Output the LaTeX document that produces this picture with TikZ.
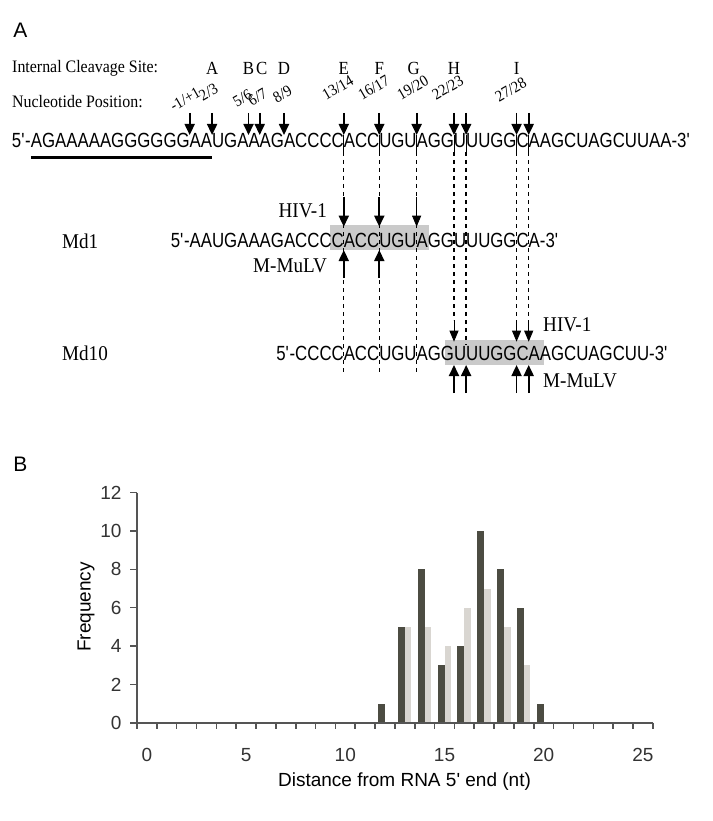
\documentclass[tikz,border=0pt]{standalone}
\usepackage{fontspec}
\setmainfont{Liberation Serif}
\setsansfont{Liberation Sans}
\newfontfamily\seqfont[FakeStretch=0.82]{Liberation Sans}
\newfontfamily\labelfont[FakeStretch=0.91]{Liberation Serif}
\usetikzlibrary{arrows.meta, positioning, calc, backgrounds}

\definecolor{bardark}{HTML}{4C4C42}
\definecolor{barlight}{HTML}{D9D6D1}
\definecolor{axisgray}{HTML}{555555}
\definecolor{boxgray}{HTML}{CACACA}

\begin{document}
\begin{tikzpicture}[
  x=1pt, y=-1pt,
  seq/.style={inner sep=0pt, outer sep=0pt, anchor=base west, font=\seqfont\fontsize{20.5}{24}\selectfont},
  seqend/.style={seq, anchor=base east},
  panel/.style={font=\sffamily\fontsize{21}{24}\selectfont},
  head/.style={anchor=west, inner sep=0pt, font=\labelfont\fontsize{17.5}{20}\selectfont},
  site/.style={inner sep=0pt, font=\labelfont\fontsize{18.5}{21}\selectfont},
  nucpos/.style={rotate=30, anchor=south west, inner sep=0pt, font=\labelfont\fontsize{16}{18}\selectfont},
  enz/.style={inner sep=0pt, font=\labelfont\fontsize{21}{24}\selectfont},
  cut/.style={-{Triangle[length=11pt, width=10pt]}, line width=1.8pt},
  thincut/.style={-{Triangle[length=11pt, width=9pt]}, line width=0.9pt},
  guide/.style={line width=1.3pt, dash pattern=on 4pt off 4pt},
  axis/.style={draw=axisgray, line width=1.6pt},
  ticklab/.style={font=\sffamily\fontsize{19}{22}\selectfont, text=black!80}
]
\useasboundingbox (0,0) rectangle (712,821);

% Panel A: headings
\node[panel] (pa) at (20.5,30) {A};
\node[head] (sitehead) at (12,68) {Internal Cleavage Site:};
\node[head] (poshead) at (12,102) {Nucleotide Position:};

% Full sequence, split at the cleavage sites
\node[seq] (p0) at (12,147.7) {5\textquotesingle-};
\node[seq] (m0) at (p0.base east) {AGAAAAAGGGGGG};
\node[seq] (m1) at (m0.base east) {AA};
\node[seq] (m2) at (m1.base east) {UGA};
\node[seq] (m3) at (m2.base east) {A};
\node[seq] (m4) at (m3.base east) {AG};
\node[seq] (m5) at (m4.base east) {A};
\node[seq] (m6) at (m5.base east) {CCCC};
\node[seq] (m7) at (m6.base east) {ACC};
\node[seq] (m8) at (m7.base east) {UGU};
\node[seq] (m9) at (m8.base east) {AGG};
\node[seq] (m10) at (m9.base east) {U};
\node[seq] (m11) at (m10.base east) {UUGG};
\node[seq] (m12) at (m11.base east) {C};
\node[seq] (m13) at (m12.base east) {AAGCUAGCUUAA-3\textquotesingle};
\foreach \i in {1,...,13} \coordinate (b\i) at (m\i.base west);

% Row levels
\coordinate (arrtop) at (0,113);
\coordinate (arrtip) at (0,135);
\coordinate (gap) at (0,152);
\coordinate (uline) at (0,158);
\coordinate (lowend) at (0,373);
\coordinate (hivtop) at (0,320);
\coordinate (mdtentop) at (0,345);

\draw[line width=3pt] (m0.base west |- uline) -- (b2 |- uline);

% Site letters
\node[site] (sA) at (b2 |- sitehead) {A};
\node[site] (sB) at (b3 |- sitehead) {B};
\node[site] (sC) at ([xshift=2pt]b4 |- sitehead) {C};
\node[site] (sD) at (b5 |- sitehead) {D};
\node[site] (sE) at (b7 |- sitehead) {E};
\node[site] (sF) at (b8 |- sitehead) {F};
\node[site] (sG) at ([xshift=-3pt]b9 |- sitehead) {G};
\node[site] (sH) at (b10 |- sitehead) {H};
\node[site] (sI) at (b12 |- sitehead) {I};

% Nucleotide positions
\node[nucpos] (n1) at (174,112) {-1/+1};
\node[nucpos] (n2) at (203,102) {2/3};
\node[nucpos] (n3) at (237,108) {5/6};
\node[nucpos] (n4) at (252,107) {6/7};
\node[nucpos] (n5) at (277,104) {8/9};
\node[nucpos] (n7) at (326,101) {13/14};
\node[nucpos] (n8) at (362,101) {16/17};
\node[nucpos] (n9) at (401,101) {19/20};
\node[nucpos] (n10) at (436,101) {22/23};
\node[nucpos] (n12) at (499,103) {27/28};

% Cleavage arrows on the full sequence
\foreach \i in {1,2,3,4,5,7,8,9,10,11,12,13}
  \draw[cut] (b\i |- arrtop) -- (b\i |- arrtip);
\foreach \i in {7,...,13}
  \draw[line width=0.6pt] (b\i |- arrtip) -- (b\i |- gap);
\foreach \i in {7,8,9}
  \draw[guide] (b\i |- gap) -- (b\i |- lowend);
\foreach \i in {10,12,13}
  \draw[guide] (b\i |- gap) -- (b\i |- hivtop);
\draw[guide] (b11 |- gap) -- (b11 |- mdtentop);

% Md1
\coordinate (rowone) at (0,247);
\node[enz, anchor=base west] (mdone) at (62,248) {Md1};
\node[seqend] (q0) at (b1 |- rowone) {5\textquotesingle-};
\node[seq] (q1) at (b1 |- rowone) {AAUGAAAGACCC};
\node[seq] (q2) at (q1.base east) {CACCUGUA};
\node[seq] (q3) at (q2.base east) {GGUUUGGCA-3\textquotesingle};
\begin{scope}[on background layer]
  \fill[boxgray] ($(q2.base west)+(-2,3)$) rectangle ($(q2.base east)+(1.5,-22)$);
\end{scope}
\node[enz, anchor=east] (hivone) at (327,210.5) {HIV-1};
\node[enz, anchor=east] (mulvone) at (327,266) {M-MuLV};
\coordinate (hivonetop) at (0,196.7);
\coordinate (hivonetip) at (0,226.7);
\coordinate (mulvonetail) at (0,278);
\coordinate (mulvonetip) at (0,250);
\foreach \i in {7,8}
  \draw[cut] (b\i |- hivonetop) -- (b\i |- hivonetip);
\draw[thincut] (b9 |- hivonetop) -- (b9 |- hivonetip);
\foreach \i in {7,8}
  \draw[cut] (b\i |- mulvonetail) -- (b\i |- mulvonetip);

% Md10
\coordinate (rowtwo) at (0,360.5);
\node[enz, anchor=base west] (mdten) at (62,360) {Md10};
\node[seqend] (r0) at (b6 |- rowtwo) {5\textquotesingle-};
\node[seq] (r1) at (b6 |- rowtwo) {CCCCACCUGUAG};
\node[seq] (r2) at (r1.base east) {GUUUGGCA};
\node[seq] (r3) at (r2.base east) {AGCUAGCUU-3\textquotesingle};
\begin{scope}[on background layer]
  \fill[boxgray] ($(r2.base west)+(4,4.5)$) rectangle ($(r2.base east)+(4,-20.5)$);
\end{scope}
\node[enz, anchor=west] (hivtwo) at (543,325) {HIV-1};
\node[enz, anchor=west] (mulvtwo) at (543,381) {M-MuLV};
\coordinate (hivtwotip) at (0,341.7);
\coordinate (mulvtwotail) at (0,393);
\coordinate (mulvtwotip) at (0,365);
\foreach \i in {10,12,13}
  \draw[thincut] (b\i |- hivtop) -- (b\i |- hivtwotip);
\foreach \i in {10,...,13}
  \draw[cut] (b\i |- mulvtwotail) -- (b\i |- mulvtwotip);

% Panel B: histogram
\node[panel] (pb) at (20.5,464.5) {B};
\foreach \k/\v in {12/1,13/5,14/8,15/3,16/4,17/10,18/8,19/6,20/1}
  \fill[bardark] (146.9+19.84*\k-7,722.7) rectangle (146.9+19.84*\k,722.7-19.17*\v);
\foreach \k/\v in {13/5,14/5,15/4,16/6,17/7,18/5,19/3}
  \fill[barlight] (146.9+19.84*\k,722.7) rectangle (146.9+19.84*\k+6.5,722.7-19.17*\v);
\draw[axis] (137,492.7) -- (137,722.7) -- (652.8,722.7);
\foreach \v in {0,2,...,12} {
  \draw[axis] (130,722.7-19.17*\v) -- (137,722.7-19.17*\v);
  \node[ticklab, anchor=east] (ylab\v) at (125,722.7-19.17*\v) {\v};
}
\foreach \k in {0,...,26}
  \draw[axis] (137+19.84*\k,722.7) -- (137+19.84*\k,729);
\foreach \k in {0,5,...,25}
  \node[ticklab] (xlab\k) at (146.9+19.84*\k,755) {\k};
\node[font=\sffamily\fontsize{19}{22}\selectfont] (xtitle) at (404.5,781.7) {Distance from RNA 5\textquotesingle{} end (nt)};
\node[rotate=90, font=\sffamily\fontsize{19}{22}\selectfont] (ytitle) at (86,607) {Frequency};

\end{tikzpicture}
\end{document}
